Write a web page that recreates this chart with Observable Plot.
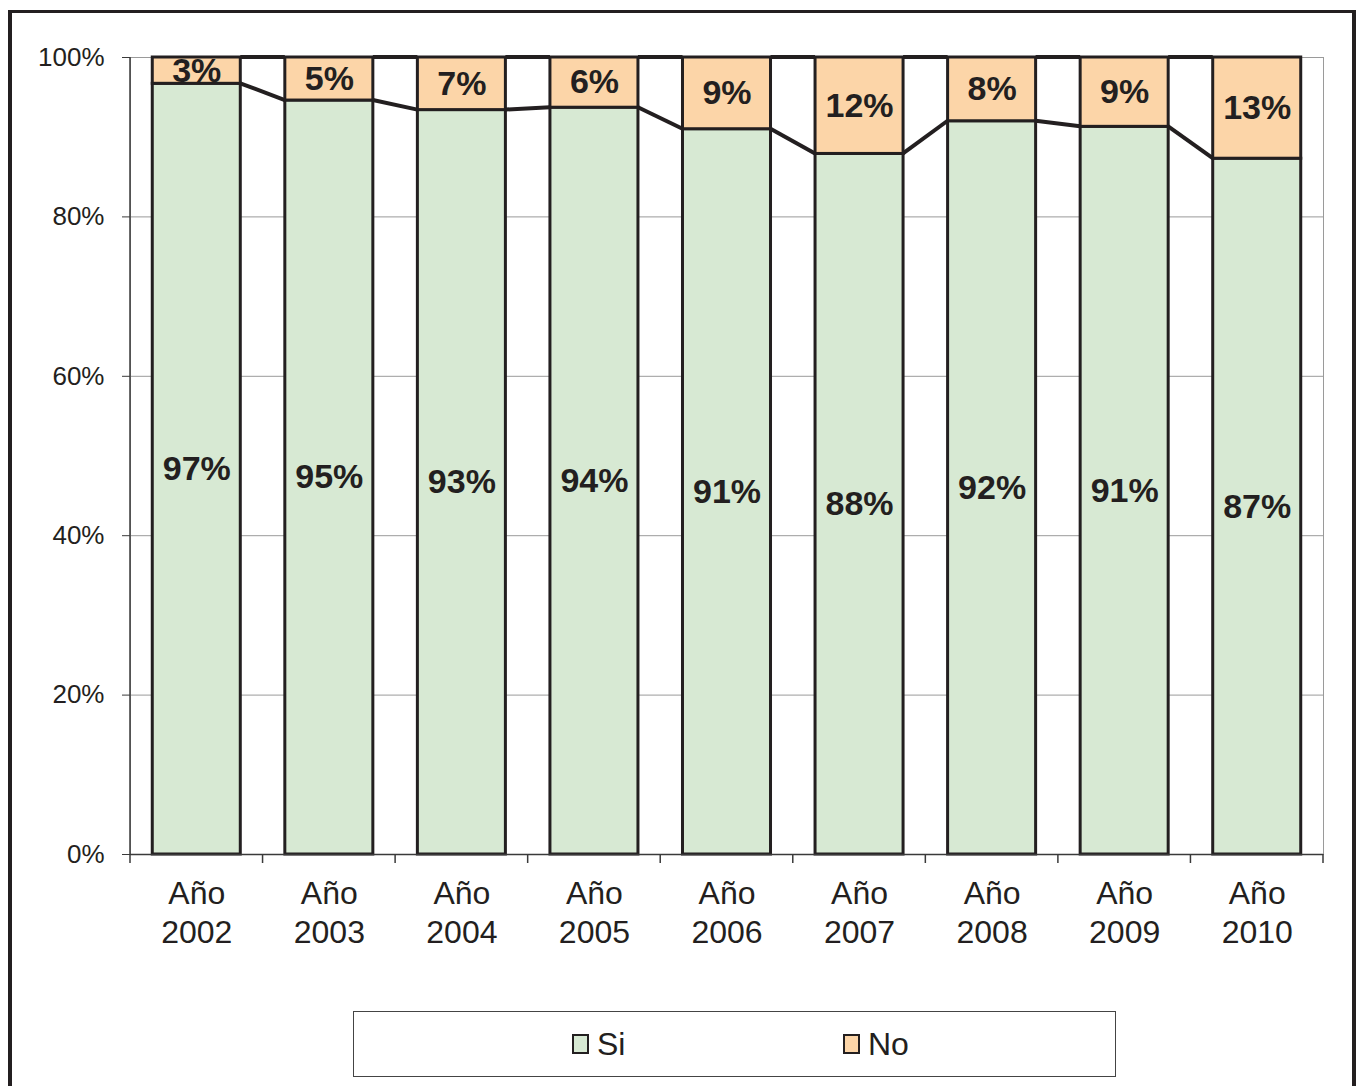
<!DOCTYPE html>
<html>
<head>
<meta charset="utf-8">
<script src="https://cdn.jsdelivr.net/npm/d3@7"></script>
<script src="https://cdn.jsdelivr.net/npm/@observablehq/plot@0.6"></script>
<style>
html, body { margin: 0; padding: 0; background: #fff; }
#wrap { position: relative; width: 1356px; height: 1086px; overflow: hidden;
  font-family: "Liberation Sans", Arial, sans-serif; color: #231f20; }
#frame { position: absolute; left: 8px; top: 10px; width: 1348px; height: 1300px;
  border: 4px solid #231f20; border-top-width: 3.5px; box-sizing: border-box; }
#chart { position: absolute; left: 0; top: 0; }
#legend { position: absolute; left: 353px; top: 1011px; width: 763px; height: 66px;
  border: 1px solid #444; box-sizing: border-box; background: #fff; }
.item { position: absolute; top: 14px; height: 36px; display: flex; align-items: center;
  font-size: 32px; line-height: 36px; }
.sw { width: 13px; height: 16px; border: 2px solid #231f20; margin-right: 8px; }
</style>
</head>
<body>
<div id="wrap">
  <div id="frame"></div>
  <div id="chart"></div>
  <div id="legend"></div>
</div>
<script>
// ---- data ----
const years = ["2002", "2003", "2004", "2005", "2006", "2007", "2008", "2009", "2010"];
const si = [96.7, 94.6, 93.4, 93.7, 91.0, 87.9, 92.0, 91.3, 87.3];
const no = [3.3, 5.4, 6.6, 6.3, 9.0, 12.1, 8.0, 8.7, 12.7];
const siLabels = ["97%", "95%", "93%", "94%", "91%", "88%", "92%", "91%", "87%"];
const noLabels = ["3%", "5%", "7%", "6%", "9%", "12%", "8%", "9%", "13%"];
const series = ["Si", "No"];
const colors = ["#d7e9d3", "#fcd5a8"];
const yTicks = [0, 20, 40, 60, 80, 100];

const rows = years.flatMap((y, i) => [
  {year: y, resp: "Si", value: si[i], label: siLabels[i]},
  {year: y, resp: "No", value: no[i], label: noLabels[i]}
]);

const ink = "#231f20";
const axisInk = "#3a3a3a";

const chart = Plot.plot({
  width: 1356,
  height: 1000,
  marginLeft: 130,
  marginRight: 33,
  marginTop: 57,
  marginBottom: 146,
  style: {fontFamily: '"Liberation Sans", Arial, sans-serif', background: "transparent", color: ink, overflow: "visible"},
  x: {domain: years, paddingInner: 0.336, paddingOuter: 0.168, align: 0.5, round: false, label: null},
  y: {domain: [0, 100], label: null},
  color: {domain: series, range: colors},
  marks: [
    Plot.frame({stroke: "#9a9a9a", strokeWidth: 1}),
    Plot.gridY(yTicks.filter(d => d > 0), {stroke: "#9a9a9a", strokeOpacity: 1, strokeWidth: 1}),
    Plot.barY(rows, {x: "year", y: "value", fill: "resp", stroke: ink, strokeWidth: 3}),
    Plot.ruleY([0], {stroke: axisInk, strokeWidth: 1.5}),
    Plot.text(rows, Plot.stackY({x: "year", y: "value", text: "label",
      fontSize: 34, fontWeight: "bold", fill: ink})),
    Plot.axisY({ticks: yTicks, tickFormat: d => d + "%", tickSize: 8, tickPadding: 18,
      fontSize: 26, stroke: axisInk, fill: ink}),
    Plot.axisX({tickSize: 0, tickPadding: 22, fontSize: 32, lineHeight: 1.22,
      tickFormat: d => "Año\n" + d, fill: ink})
  ]
});
document.getElementById("chart").appendChild(chart);

// series lines, left axis line and category-boundary ticks, through the plot's own scales
const sx = chart.scale("x"), sy = chart.scale("y");
const xs = d3.scaleBand(sx.domain, sx.range)
  .paddingInner(sx.paddingInner ?? sx.padding ?? 0.336)
  .paddingOuter(sx.paddingOuter ?? sx.padding ?? 0.168)
  .align(sx.align ?? 0.5);
const xf = sx.apply ? (v => sx.apply(v)) : (v => xs(v));
const yf = sy.apply ? (v => sy.apply(v)) : d3.scaleLinear(sy.domain, sy.range);
const bw = sx.bandwidth ?? xs.bandwidth();
const st = sx.step ?? xs.step();
const g = d3.select(chart).append("g");
const y0 = yf(0), y100 = yf(100);
const left = Math.min(...sx.range);
g.append("line").attr("x1", left).attr("x2", left).attr("y1", y0).attr("y2", y100)
  .attr("stroke", axisInk).attr("stroke-width", 1.5);
const gap = (st - bw) / 2;
const bounds = years.map(yr => xf(yr) - gap).concat([xf(years[years.length - 1]) + bw + gap]);
for (const b of bounds) {
  g.append("line").attr("x1", b).attr("x2", b).attr("y1", y0).attr("y2", y0 + 9)
    .attr("stroke", axisInk).attr("stroke-width", 1.5);
}
for (let i = 0; i < years.length - 1; i++) {
  const xa = xf(years[i]) + bw, xb = xf(years[i + 1]);
  g.append("line").attr("x1", xa).attr("x2", xb).attr("y1", yf(si[i])).attr("y2", yf(si[i + 1]))
    .attr("stroke", ink).attr("stroke-width", 4);
  g.append("line").attr("x1", xa).attr("x2", xb).attr("y1", y100).attr("y2", y100)
    .attr("stroke", ink).attr("stroke-width", 4);
}

// legend
const legend = d3.select("#legend");
const lefts = [571 - 353, 842 - 353];
series.forEach((s, i) => {
  const it = legend.append("div").attr("class", "item").style("left", lefts[i] + "px");
  it.append("div").attr("class", "sw").style("background", colors[i]);
  it.append("span").text(s);
});
</script>
</body>
</html>
